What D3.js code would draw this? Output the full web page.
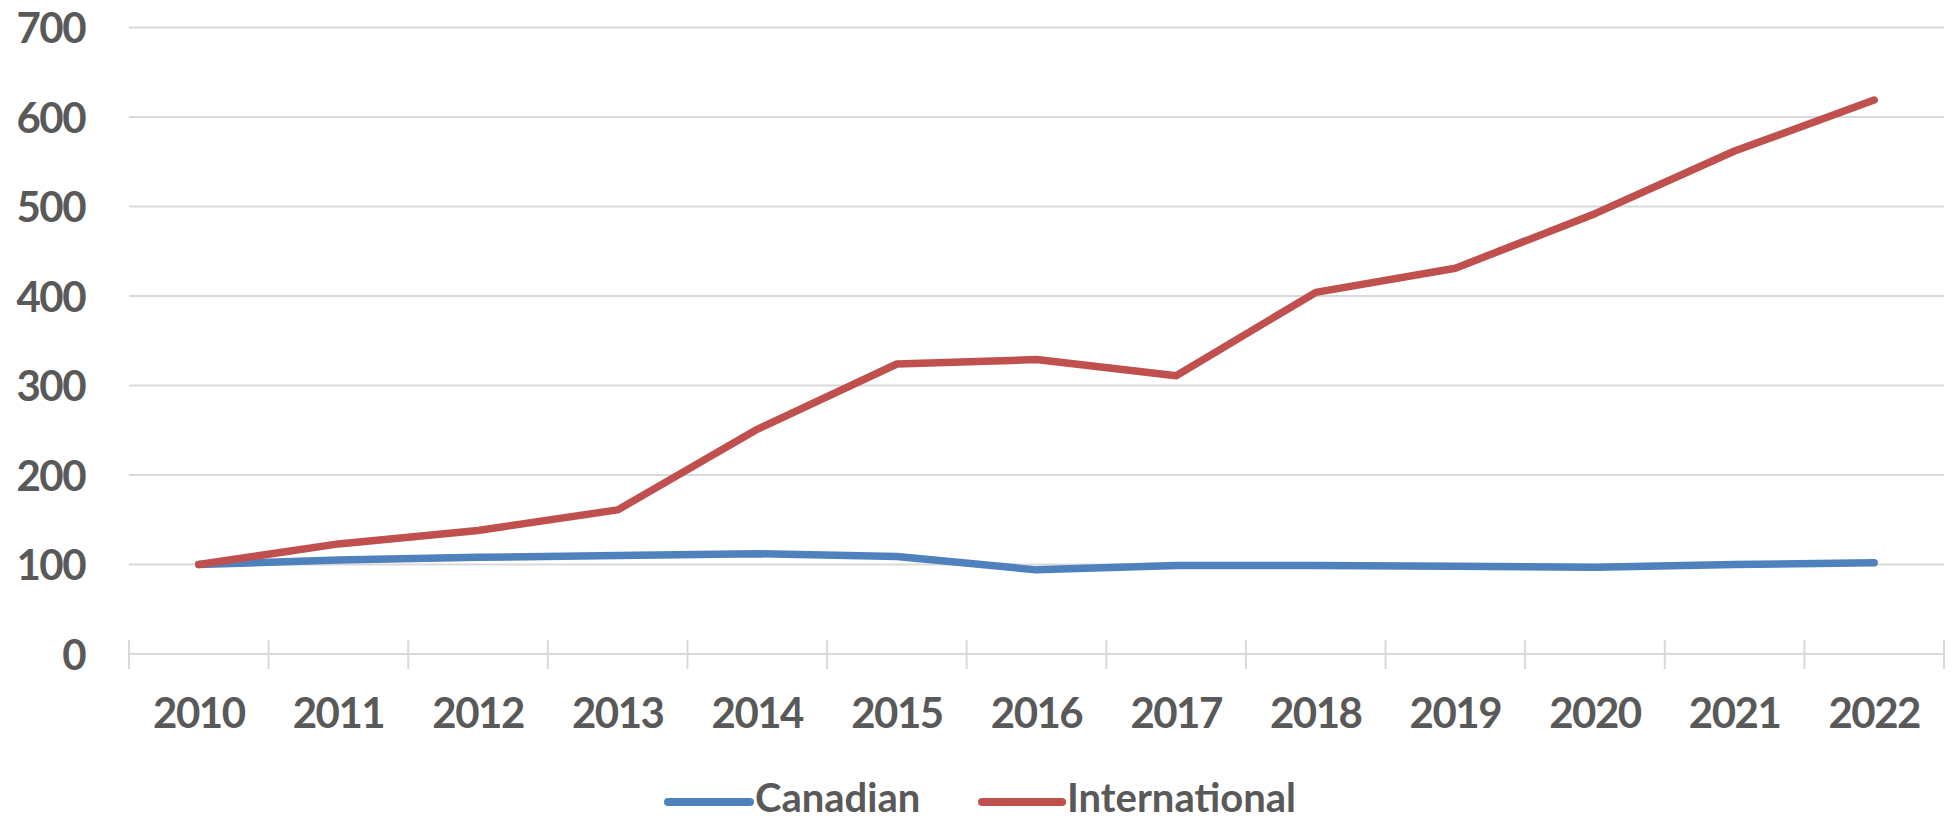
<!DOCTYPE html>
<html>
<head>
<meta charset="utf-8">
<script src="https://cdn.jsdelivr.net/npm/d3@7"></script>
<style>
  html, body { margin: 0; padding: 0; background: #ffffff; }
  svg { display: block; }
  text { font-family: Lato, "Open Sans", sans-serif; font-weight: 700; fill: #595959; }
</style>
</head>
<body>
<svg id="chart" width="1960" height="822"></svg>
<script>
const years = ["2010","2011","2012","2013","2014","2015","2016","2017","2018","2019","2020","2021","2022"];
const canadian = [100, 105, 108, 110, 112, 109, 94, 99, 99, 98, 97, 100, 102];
const international = [100, 123, 138, 161, 251, 324, 329, 311, 404, 431, 492, 562, 619];
const yTicks = [0, 100, 200, 300, 400, 500, 600, 700];
const seriesNames = ["Canadian", "International"];
const seriesColors = ["#4f81bd", "#c0504d"];

const svg = d3.select("#chart");
const mLeft = 129, mRight = 1944, mTop = 27.5, mBottom = 654;

const x = d3.scaleBand().domain(years).range([mLeft, mRight]).padding(0);
const y = d3.scaleLinear().domain([0, 700]).range([mBottom, mTop]);

// gridlines
svg.append("g")
  .selectAll("line")
  .data(yTicks.filter(d => d > 0))
  .join("line")
  .attr("x1", mLeft).attr("x2", mRight)
  .attr("y1", d => y(d)).attr("y2", d => y(d))
  .attr("stroke", "#d9d9d9").attr("stroke-width", 2);

// y axis labels
const yAxis = d3.axisLeft(y).tickValues(yTicks).tickSize(0).tickPadding(44);
const gy = svg.append("g").attr("transform", `translate(${mLeft},0)`).call(yAxis);
gy.select(".domain").remove();
gy.selectAll("text")
  .attr("font-size", 42)
  .attr("font-family", "Lato, sans-serif")
  .attr("font-weight", 700)
  .attr("fill", "#595959")
  .attr("letter-spacing", "-1.5px")
  .attr("dy", "0.36em");

// x axis line
svg.append("line")
  .attr("x1", mLeft).attr("x2", mRight)
  .attr("y1", y(0)).attr("y2", y(0))
  .attr("stroke", "#d9d9d9").attr("stroke-width", 2);

// x axis ticks at band boundaries (cross)
const boundaries = years.map(d => x(d)).concat([x.range()[1]]);
svg.append("g")
  .selectAll("line")
  .data(boundaries)
  .join("line")
  .attr("x1", d => d).attr("x2", d => d)
  .attr("y1", y(0) - 14).attr("y2", y(0) + 15)
  .attr("stroke", "#d9d9d9").attr("stroke-width", 2);

// x labels
svg.append("g")
  .selectAll("text")
  .data(years)
  .join("text")
  .attr("x", d => x(d) + x.bandwidth() / 2)
  .attr("y", y(0) + 74)
  .attr("text-anchor", "middle")
  .attr("font-size", 42)
  .attr("letter-spacing", "-1.5px")
  .text(d => d);

// lines
const line = d3.line()
  .x((d, i) => x(years[i]) + x.bandwidth() / 2)
  .y(d => y(d));

[canadian, international].forEach((vals, k) => {
  svg.append("path")
    .datum(vals)
    .attr("d", line)
    .attr("fill", "none")
    .attr("stroke", seriesColors[k])
    .attr("stroke-width", 7.5)
    .attr("stroke-linecap", "round")
    .attr("stroke-linejoin", "round");
});

// legend
const legendItems = [
  { name: seriesNames[0], color: seriesColors[0], lx1: 668, lx2: 750, tx: 755 },
  { name: seriesNames[1], color: seriesColors[1], lx1: 982, lx2: 1062, tx: 1067 }
];
const lg = svg.append("g");
legendItems.forEach(it => {
  lg.append("line")
    .attr("x1", it.lx1).attr("x2", it.lx2)
    .attr("y1", 802).attr("y2", 802)
    .attr("stroke", it.color).attr("stroke-width", 8)
    .attr("stroke-linecap", "round");
  lg.append("text")
    .attr("x", it.tx).attr("y", 812)
    .attr("font-size", 40)
    .text(it.name);
});
</script>
</body>
</html>
